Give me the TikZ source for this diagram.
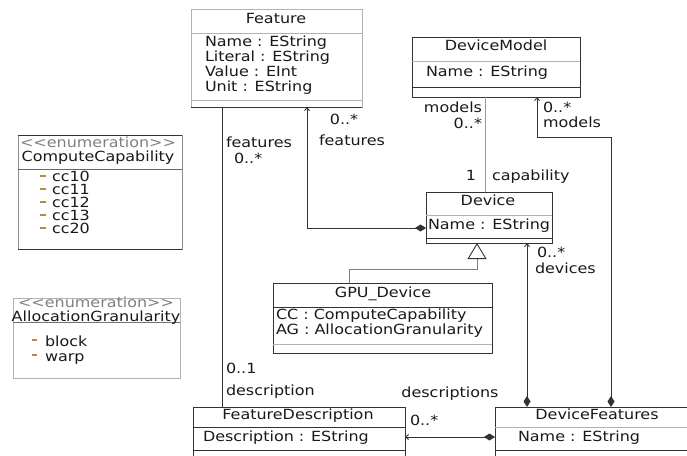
\documentclass[tikz,border=0pt]{standalone}
\usepackage{fontspec}
\setmainfont{DejaVu Sans}[FakeStretch=1.14]
\usetikzlibrary{arrows.meta}
\definecolor{txtc}{RGB}{25,25,25}
\definecolor{dashc}{RGB}{180,140,60}
\tikzset{
  txt/.style={inner sep=0pt, outer sep=0pt, text=txtc, font=\fontsize{14}{15}\selectfont},
  gtxt/.style={txt, text=black!50},
  classbox/.style={draw=black!80, line width=0.9pt, inner sep=0pt, outer sep=0pt, anchor=north west},
  lightbox/.style={draw=black!30, line width=0.8pt, inner sep=0pt, outer sep=0pt, anchor=north west},
  darksep/.style={draw=black!80, line width=0.9pt},
  lightsep/.style={draw=black!30, line width=0.8pt},
  conn/.style={draw=black!80, line width=0.9pt},
  gconn/.style={draw=black!40, line width=0.9pt},
  comp/.style={conn, {Diamond[length=11pt,width=7pt]}-{Straight Barb[length=3pt,width=5pt]}},
  litdash/.style={draw=dashc, line width=1.6pt},
}
\begin{document}
\begin{tikzpicture}[x=1pt,y=-1pt]
\path[use as bounding box, clip] (0,0) rectangle (687,455);
\fill[white] (0,0) rectangle (687,455);

% ---------- Feature ----------
\node[lightbox, minimum width=171pt, minimum height=98pt] (feature) at (191,9) {};
\draw[lightsep] ([yshift=-24pt]feature.north west) -- ([yshift=-24pt]feature.north east);
\draw[lightsep] ([yshift=-91pt]feature.north west) -- ([yshift=-91pt]feature.north east);
\draw[darksep] (feature.south west) -- (feature.south east);
\node[txt, anchor=mid] (ftitle) at (276,21) {Feature};
\foreach \t [count=\i] in {Name : EString, Literal : EString, Value : EInt, Unit : EString}
  \node[txt, anchor=mid west] (fattr\i) at (205,28+15.3*\i) {\t};

% ---------- DeviceModel ----------
\node[classbox, minimum width=168pt, minimum height=60pt] (devicemodel) at (412,37) {};
\draw[lightsep] ([yshift=-24pt]devicemodel.north west) -- ([yshift=-24pt]devicemodel.north east);
\draw[darksep] ([yshift=-50pt]devicemodel.north west) -- ([yshift=-50pt]devicemodel.north east);
\node[txt, anchor=mid] (dmtitle) at (496,48) {DeviceModel};
\node[txt, anchor=mid west] (dmattr) at (426,74) {Name : EString};

% ---------- Device ----------
\node[classbox, minimum width=126pt, minimum height=51pt] (device) at (426,192) {};
\draw[lightsep] ([yshift=-23pt]device.north west) -- ([yshift=-23pt]device.north east);
\draw[darksep] ([yshift=-46pt]device.north west) -- ([yshift=-46pt]device.north east);
\node[txt, anchor=mid] (devtitle) at (488,203) {Device};
\node[txt, anchor=mid west] (devattr) at (428,227) {Name : EString};

% ---------- GPU_Device ----------
\node[classbox, minimum width=219pt, minimum height=70pt] (gpu) at (273,283) {};
\draw[darksep] ([yshift=-24pt]gpu.north west) -- ([yshift=-24pt]gpu.north east);
\draw[lightsep] ([yshift=-61pt]gpu.north west) -- ([yshift=-61pt]gpu.north east);
\node[txt, anchor=mid] (gputitle) at (383,295) {GPU\_Device};
\node[txt, anchor=mid west] (gpuattr1) at (276,317) {CC : ComputeCapability};
\node[txt, anchor=mid west] (gpuattr2) at (276,332) {AG : AllocationGranularity};

% ---------- FeatureDescription ----------
\node[classbox, minimum width=212pt, minimum height=60pt] (fdesc) at (193,407) {};
\draw[darksep] ([yshift=-20pt]fdesc.north west) -- ([yshift=-20pt]fdesc.north east);
\draw[darksep] ([yshift=-43pt]fdesc.north west) -- ([yshift=-43pt]fdesc.north east);
\node[txt, anchor=mid] (fdtitle) at (298,417) {FeatureDescription};
\node[txt, anchor=mid west] (fdattr) at (203,439) {Description : EString};

% ---------- DeviceFeatures ----------
\node[classbox, minimum width=200pt, minimum height=60pt] (dfeat) at (495,407) {};
\draw[lightsep] ([yshift=-20pt]dfeat.north west) -- ([yshift=-20pt]dfeat.north east);
\draw[darksep] ([yshift=-43pt]dfeat.north west) -- ([yshift=-43pt]dfeat.north east);
\node[txt, anchor=mid] (dftitle) at (597,417) {DeviceFeatures};
\node[txt, anchor=mid west] (dfattr) at (518,439) {Name : EString};

% ---------- ComputeCapability ----------
\node[lightbox, draw=black!45, minimum width=164pt, minimum height=114pt] (cc) at (18,135) {};
\draw[darksep] (cc.north west) -- (cc.north east);
\draw[darksep] (cc.south west) -- (cc.south east);
\draw[darksep, draw=black!60] ([yshift=-34pt]cc.north west) -- ([yshift=-34pt]cc.north east);
\node[gtxt, anchor=mid] (ccst) at (98,145) {<\kern0pt<enumeration>\kern0pt>};
\node[txt, anchor=mid] (cctitle) at (98,159) {ComputeCapability};
\foreach \t [count=\i] in {cc10, cc11, cc12, cc13, cc20} {
  \draw[litdash] (40,163+13*\i) -- (46,163+13*\i);
  \node[txt, anchor=mid west] (cclit\i) at (52,166+13*\i) {\t};
}

% ---------- AllocationGranularity ----------
\node[lightbox, minimum width=167pt, minimum height=80pt] (ag) at (13,298) {};
\draw[lightsep, draw=black!55] ([yshift=-24pt]ag.north west) -- ([yshift=-24pt]ag.north east);
\node[gtxt, anchor=mid] (agst) at (96,305) {<\kern0pt<enumeration>\kern0pt>};
\node[txt, anchor=mid] (agtitle) at (96,319) {AllocationGranularity};
\foreach \t [count=\i] in {block, warp} {
  \draw[litdash] (32,325+15*\i) -- (37,325+15*\i);
  \node[txt, anchor=mid west] (aglit\i) at (45,329+15*\i) {\t};
}

% ---------- Connectors ----------
% Feature -- FeatureDescription
\draw[conn] ([xshift=31pt]feature.south west) -- ([xshift=29pt]fdesc.north west);
\node[txt, anchor=mid west] (l1) at (226,145) {features};
\node[txt, anchor=mid west] (l2) at (234,161) {0..*};
\node[txt, anchor=mid west] (l3) at (226,371) {0..1};
\node[txt, anchor=mid west] (l4) at (226,393) {description};

% Device -> Feature (composition)
\draw[comp] ([yshift=-36pt]device.north west) -| ([xshift=116pt]feature.south west);
\node[txt, anchor=mid] (l5) at (344,122) {0..*};
\node[txt, anchor=mid] (l6) at (352,143) {features};

% DeviceModel -- Device
\draw[gconn] ([xshift=73pt]devicemodel.south west) -- ([xshift=59pt]device.north west);
\node[txt, anchor=mid east] (l7) at (482,110) {models};
\node[txt, anchor=mid east] (l8) at (482,126) {0..*};
\node[txt, anchor=mid east] (l9) at (476,178) {1};
\node[txt, anchor=mid west] (l10) at (492,178) {capability};

% DeviceFeatures -> DeviceModel
\draw[comp] ([xshift=116pt]dfeat.north west) |- ([xshift=125pt,yshift=-40pt]devicemodel.south west) -- ([xshift=125pt]devicemodel.south west);
\node[txt, anchor=mid west] (l11) at (543,110) {0..*};
\node[txt, anchor=mid west] (l12) at (543,125) {models};

% DeviceFeatures -> Device
\draw[comp] ([xshift=32pt]dfeat.north west) -- ([xshift=101pt]device.south west);
\node[txt, anchor=mid west] (l13) at (537,255) {0..*};
\node[txt, anchor=mid west] (l14) at (535,271) {devices};

% GPU_Device generalizes Device
\draw[draw=black!50, line width=0.9pt, -{Triangle[open, length=16pt, width=19pt, color=black!80, line width=0.9pt]}]
  ([xshift=76pt]gpu.north west) |- ([xshift=51pt,yshift=-26pt]device.south west) -- ([xshift=51pt]device.south west);

% DeviceFeatures -> FeatureDescription
\draw[comp] ([yshift=-30pt]dfeat.north west) -- ([yshift=-30pt]fdesc.north east);
\node[txt, anchor=mid] (l15) at (450,395) {descriptions};
\node[txt, anchor=mid west] (l16) at (410,423) {0..*};
\end{tikzpicture}
\end{document}
